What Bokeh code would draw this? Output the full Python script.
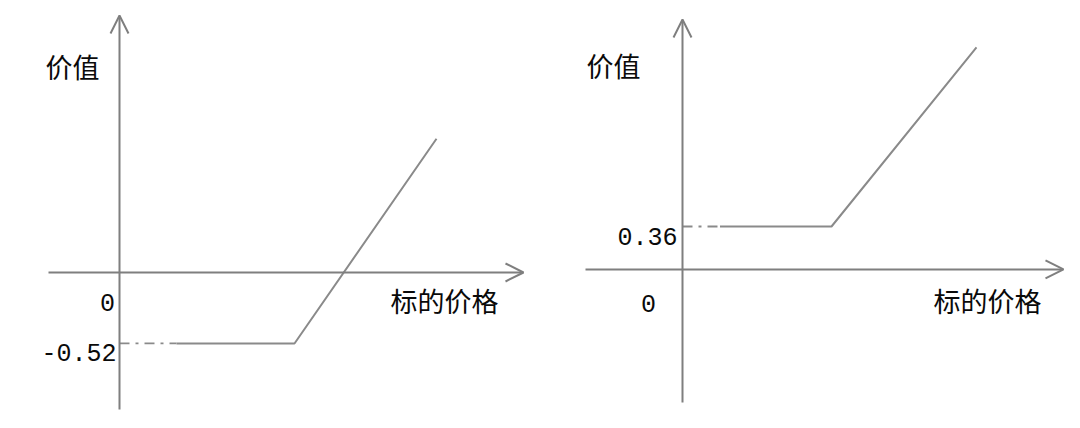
from bokeh.plotting import figure
from bokeh.layouts import row
from bokeh.models import Range1d, Arrow, OpenHead, ColumnDataSource
from bokeh.core.properties import value
from bokeh.embed import file_html
from bokeh.resources import INLINE

# ---------------- data ----------------
# left panel: net value of a long call (premium paid 0.52)
left_price = [0.57, 1.75, 3.17]
left_value = [-0.52, -0.52, 0.98]
left_level = -0.52
left_level_label = "-0.52"

# right panel: value of a position floored at 0.36
right_price = [0.375, 1.49, 2.94]
right_value = [0.36, 0.36, 1.86]
right_level = 0.36
right_level_label = "0.36"

x_title = "标的价格"
y_title = "价值"
origin_label = "0"

AXIS_COLOR = "#7f7f7f"
LINE_COLOR = "#8a8a8a"
TEXT_COLOR = "#0a0a0a"
CJK = value("Noto Sans CJK SC")
MONO = value("Liberation Mono")


def panel(xr, yr, xaxis, yaxis, price, val, level, level_label,
          ytitle_pos, xtitle_pos, zero_pos, level_pos):
    p = figure(width=532, height=412, output_backend="svg", toolbar_location=None,
               x_range=Range1d(*xr), y_range=Range1d(*yr),
               x_axis_type=None, y_axis_type=None, min_border=0)
    p.grid.visible = False
    p.outline_line_color = None
    p.background_fill_color = "white"
    p.border_fill_color = "white"

    # axes with open arrow heads
    p.add_layout(Arrow(end=OpenHead(size=18, line_color=AXIS_COLOR, line_width=2),
                       x_start=xaxis[0], y_start=0, x_end=xaxis[1], y_end=0,
                       line_color=AXIS_COLOR, line_width=2))
    p.add_layout(Arrow(end=OpenHead(size=18, line_color=AXIS_COLOR, line_width=2),
                       x_start=0, y_start=yaxis[0], x_end=0, y_end=yaxis[1],
                       line_color=AXIS_COLOR, line_width=2))

    # dash-dot guide from axis to the flat segment
    p.line([0, price[0]], [level, level], line_color=LINE_COLOR, line_width=1.8,
           line_dash="10 6 3 6")
    # payoff line
    p.line(price, val, line_color=LINE_COLOR, line_width=2)

    src = ColumnDataSource(dict(x=[ytitle_pos[0], xtitle_pos[0]],
                                y=[ytitle_pos[1], xtitle_pos[1]],
                                t=[y_title, x_title]))
    p.text("x", "y", "t", source=src, text_font=CJK, text_font_size="27px",
           text_color=TEXT_COLOR, text_align="left", text_baseline="middle")

    p.text([zero_pos[0]], [zero_pos[1]], [origin_label], text_font=MONO,
           text_font_size="25px", text_color=TEXT_COLOR,
           text_align="center", text_baseline="middle")
    p.text([level_pos[0]], [level_pos[1]], [level_label], text_font=MONO,
           text_font_size="25px", text_color=TEXT_COLOR,
           text_align="right", text_baseline="middle")
    return p


left = panel(xr=(-1.19, 4.13), yr=(-1.026, 1.993),
             xaxis=(-0.71, 4.04), yaxis=(-1.004, 1.883),
             price=left_price, val=left_value, level=left_level,
             level_label=left_level_label,
             ytitle_pos=(-0.74, 1.513), xtitle_pos=(2.71, -0.205),
             zero_pos=(-0.12, -0.22), level_pos=(-0.03, -0.586))

right = panel(xr=(-1.50, 3.82), yr=(-1.198, 2.253),
              xaxis=(-0.97, 3.81), yaxis=(-1.114, 2.094),
              price=right_price, val=right_value, level=right_level,
              level_label=right_level_label,
              ytitle_pos=(-0.96, 1.709), xtitle_pos=(2.51, -0.26),
              zero_pos=(-0.34, -0.285), level_pos=(-0.05, 0.276))

layout = row(left, right, spacing=0)
open("out.html", "w").write(file_html(layout, INLINE))
